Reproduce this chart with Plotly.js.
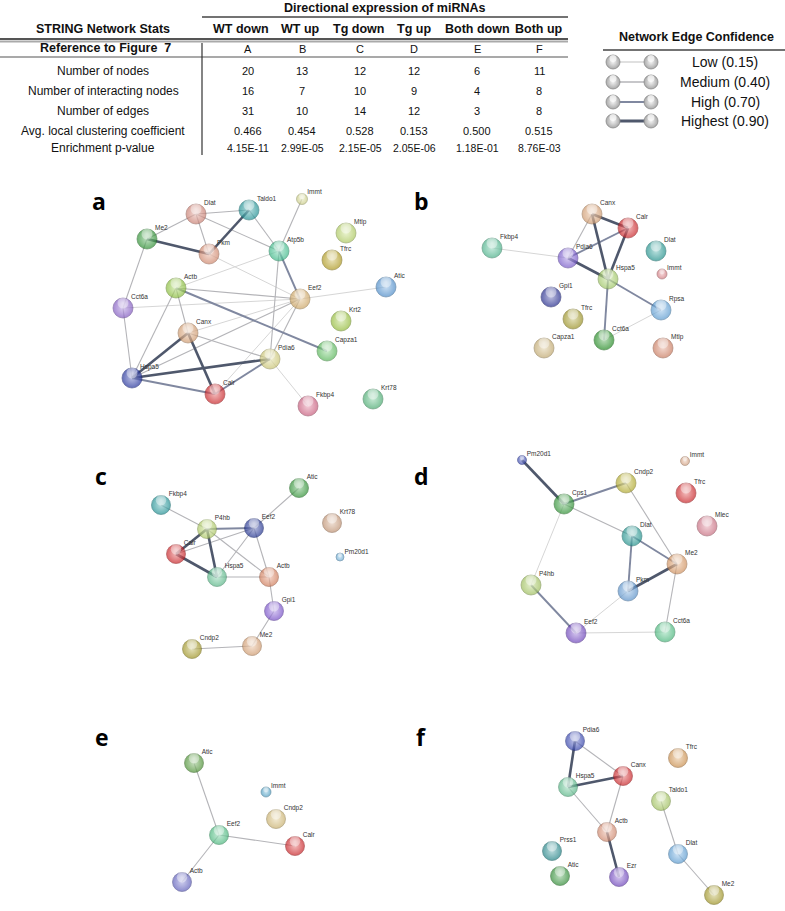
<!DOCTYPE html>
<html><head><meta charset="utf-8">
<script src="https://cdn.plot.ly/plotly-3.0.1.min.js"></script>
<style>html,body{margin:0;padding:0;background:#fff}#chart{width:785px;height:911px}</style>
</head><body><div id="chart"></div>
<script>
// ================= TABLE DATA =================
const groupTitle = 'Directional expression of miRNAs';
const statsTitle = 'STRING Network Stats';
const columns = ['WT down','WT up','Tg down','Tg up','Both down','Both up'];
const figRefLabel = 'Reference to Figure\u00a0 7';
const figRefs = ['A','B','C','D','E','F'];
const rowLabels = ['Number of nodes','Number of interacting nodes','Number of edges','Avg. local clustering coefficient','Enrichment p-value'];
const nodesCount  = ['20','13','12','12','6','11'];
const interacting = ['16','7','10','9','4','8'];
const edgesCount  = ['31','10','14','12','3','8'];
const clustering  = ['0.466','0.454','0.528','0.153','0.500','0.515'];
const pValues     = ['4.15E-11','2.99E-05','2.15E-05','2.05E-06','1.18E-01','8.76E-03'];

// ================= LEGEND DATA =================
const confTitle  = 'Network Edge Confidence';
const confLabels = ['Low (0.15)','Medium (0.40)','High (0.70)','Highest (0.90)'];
const confValues = [0.15, 0.40, 0.70, 0.90];

// ================= NETWORK DATA (layout coordinates per panel) =================
const panelLetters = ['a','b','c','d','e','f'];

const aNames = ['Dlat','Taldo1','Immt','Me2','Pkm','Atp5b','Mtlp','Tfrc','Atic','Actb','Eef2','Cct6a','Krt2','Canx','Capza1','Pdia6','Hspa5','Calr','Fkbp4','Krt78'];
const aX = [106,159,212,57,119,189,256,242,296,86,210,33,251,98,237,180,42,125,218,283];
const aY = [34,30,19,59,74,71,53,80,107,108,119,128,141,153,171,179,198,214,226,219];
const aEdges = [
  ['Dlat','Taldo1',0.40],['Dlat','Me2',0.40],['Dlat','Pkm',0.40],['Dlat','Atp5b',0.40],
  ['Taldo1','Pkm',0.90],['Taldo1','Atp5b',0.40],['Me2','Pkm',0.90],['Me2','Cct6a',0.40],
  ['Pkm','Eef2',0.15],['Immt','Atp5b',0.40],['Atp5b','Actb',0.15],['Atp5b','Eef2',0.70],
  ['Atp5b','Pdia6',0.40],['Eef2','Atic',0.15],['Eef2','Actb',0.40],['Eef2','Cct6a',0.15],
  ['Eef2','Hspa5',0.40],['Eef2','Pdia6',0.40],['Eef2','Calr',0.15],['Eef2','Canx',0.15],
  ['Actb','Capza1',0.70],['Actb','Canx',0.40],['Actb','Hspa5',0.40],['Cct6a','Hspa5',0.40],
  ['Canx','Hspa5',0.90],['Canx','Calr',0.90],['Canx','Pdia6',0.40],['Hspa5','Pdia6',0.90],
  ['Hspa5','Calr',0.70],['Pdia6','Calr',0.70],['Pdia6','Fkbp4',0.15]
];

const bNames = ['Canx','Calr','Fkbp4','Pdia6','Dlat','Immt','Hspa5','Gpi1','Rpsa','Tfrc','Cct6a','Capza1','Mtlp'];
const bX = [152,188,52,128,216,222,168,111,221,133,164,104,223];
const bY = [34,48,68,78,71,94,99,117,130,139,160,168,168];
const bEdges = [
  ['Canx','Calr',0.90],['Canx','Pdia6',0.40],['Canx','Hspa5',0.90],['Calr','Pdia6',0.70],
  ['Calr','Hspa5',0.90],['Pdia6','Hspa5',0.90],['Pdia6','Fkbp4',0.15],['Hspa5','Rpsa',0.70],
  ['Hspa5','Cct6a',0.70],['Cct6a','Rpsa',0.15]
];

const cNames = ['Atic','Fkbp4','Krt78','P4hb','Eef2','Calr','Pm20d1','Hspa5','Actb','Gpi1','Me2','Cndp2'];
const cX = [199,61,232,107,154,76,240,117,169,174,152,92];
const cY = [48,65,83,89,88,114,117,137,137,171,206,209];
const cEdges = [
  ['Atic','Eef2',0.40],['Fkbp4','P4hb',0.40],['P4hb','Eef2',0.70],['P4hb','Calr',0.90],
  ['P4hb','Hspa5',0.90],['P4hb','Actb',0.40],['Calr','Eef2',0.40],['Calr','Hspa5',0.90],
  ['Eef2','Hspa5',0.40],['Eef2','Actb',0.40],['Hspa5','Actb',0.40],['Actb','Gpi1',0.40],
  ['Gpi1','Me2',0.40],['Me2','Cndp2',0.40]
];

const dNames = ['Pm20d1','Immt','Cndp2','Tfrc','Cps1','Mlec','Dlat','Me2','P4hb','Pkm','Eef2','Cct6a'];
const dX = [82,245,186,246,124,267,192,237,91,188,136,225];
const dY = [20,21,43,53,64,86,96,124,145,151,193,192];
const dEdges = [
  ['Pm20d1','Cps1',0.90],['Cps1','Cndp2',0.70],['Cps1','Dlat',0.40],['Cps1','P4hb',0.15],
  ['Cndp2','Me2',0.40],['Dlat','Me2',0.70],['Dlat','Pkm',0.70],['Me2','Pkm',0.90],
  ['Me2','Cct6a',0.40],['P4hb','Eef2',0.70],['Pkm','Eef2',0.15],['Eef2','Cct6a',0.15]
];

const eNames = ['Atic','Immt','Cndp2','Eef2','Calr','Actb'];
const eX = [94,166,176,119,195,82];
const eY = [73,102,129,145,156,192];
const eEdges = [['Atic','Eef2',0.40],['Eef2','Calr',0.40],['Eef2','Actb',0.40]];

const fNames = ['Pdia6','Tfrc','Canx','Hspa5','Taldo1','Actb','Prss1','Dlat','Atic','Ezr','Me2'];
const fX = [135,238,183,128,221,167,112,238,120,179,274];
const fY = [51,68,86,97,111,142,161,164,186,187,205];
const fEdges = [
  ['Pdia6','Canx',0.40],['Pdia6','Hspa5',0.90],['Hspa5','Canx',0.90],['Hspa5','Actb',0.40],
  ['Canx','Actb',0.40],['Actb','Ezr',0.90],['Taldo1','Dlat',0.40],['Dlat','Me2',0.40]
];

// ================= STYLES =================
const W = 785, H = 911;
const px = v => v / W, py = v => 1 - v / H;

const nodeColors = {
  a: {Dlat:'#d9887a',Taldo1:'#1f9a9e',Immt:'#d9dc8e',Me2:'#2f9a34',Pkm:'#df8f72',Atp5b:'#3fc792',Mtlp:'#b9d763',Tfrc:'#b9a21c',Atic:'#4f95d8',Actb:'#93cb3d',Eef2:'#dcb068',Cct6a:'#8a5fd0',Krt2:'#9cc83a',Canx:'#dfa474',Capza1:'#5cc45e',Pdia6:'#d8d27a',Hspa5:'#2232a6',Calr:'#d82226',Fkbp4:'#d65f82',Krt78:'#4cb777'},
  b: {Canx:'#dfa474',Calr:'#d82226',Fkbp4:'#4cbd92',Pdia6:'#7d5cd8',Dlat:'#1f9a95',Immt:'#df7d84',Hspa5:'#a8d468',Gpi1:'#232a96',Rpsa:'#5ea4df',Tfrc:'#a49a22',Cct6a:'#229322',Capza1:'#cfb374',Mtlp:'#d88163'},
  c: {Atic:'#2f9a34',Fkbp4:'#1f9a9e',Krt78:'#cc9a78',P4hb:'#b9d76a',Eef2:'#22349a',Calr:'#d82226',Pm20d1:'#6db3e0',Hspa5:'#5cc490',Actb:'#e0835e',Gpi1:'#7d52d6',Me2:'#dfa474',Cndp2:'#a89d22'},
  d: {Pm20d1:'#3444b8',Immt:'#dfa784',Cndp2:'#bdb42c',Tfrc:'#d82226',Cps1:'#2f9a34',Mlec:'#d67287',Dlat:'#1f9a95',Me2:'#e09a62',P4hb:'#a8cc60',Pkm:'#5e9ad8',Eef2:'#7244c8',Cct6a:'#4cc483'},
  e: {Atic:'#4f9a34',Immt:'#4ea6cf',Cndp2:'#d8bd74',Eef2:'#4cc483',Calr:'#d82226',Actb:'#6262c8'},
  f: {Pdia6:'#3444b8',Tfrc:'#d8974e',Canx:'#d82226',Hspa5:'#5cc490',Taldo1:'#a8cc60',Actb:'#df8f72',Prss1:'#1f8a8e',Dlat:'#5ea4df',Atic:'#2f9434',Ezr:'#7244c8',Me2:'#a89d22'}
};
const smallNodes = {a:{Immt:11}, b:{Immt:10}, c:{Pm20d1:8}, d:{Pm20d1:9, Immt:9}, e:{Immt:10}, f:{}};
const nodeSize = {a:20, b:20, c:19, d:20, e:19, f:19};

const edgeStyle = c => c >= 0.9 ? {color:'#4f586c', width:2.6}
                    : c >= 0.7 ? {color:'#8088a0', width:1.9}
                    : c >= 0.4 ? {color:'#b4b4b8', width:1.1}
                    :            {color:'#d6d6d6', width:1.0};

const boxes = {
  a:{x0:90, y0:180, w:330, h:240},
  b:{x0:440,y0:180, w:290, h:240},
  c:{x0:100,y0:440, w:280, h:230},
  d:{x0:440,y0:440, w:290, h:230},
  e:{x0:100,y0:690, w:260, h:221},
  f:{x0:440,y0:690, w:300, h:221}
};
const letterPos = {a:[99,201], b:[421,201], c:[101,476], d:[421,476], e:[102,737], f:[421,737]};

function hexToRgb(h){h=h.replace('#','');return [parseInt(h.substr(0,2),16),parseInt(h.substr(2,2),16),parseInt(h.substr(4,2),16)];}
function mix(h, t){const c=hexToRgb(h);return 'rgb('+c.map(v=>Math.round(v+(255-v)*t)).join(',')+')';}
function shade(h, t){const c=hexToRgb(h);return 'rgb('+c.map(v=>Math.round(v*(1-t))).join(',')+')';}

const panels = {
  a:{names:aNames,x:aX,y:aY,edges:aEdges},
  b:{names:bNames,x:bX,y:bY,edges:bEdges},
  c:{names:cNames,x:cX,y:cY,edges:cEdges},
  d:{names:dNames,x:dX,y:dY,edges:dEdges},
  e:{names:eNames,x:eX,y:eY,edges:eEdges},
  f:{names:fNames,x:fX,y:fY,edges:fEdges}
};

const traces = [];
const layout = {
  width:W, height:H, margin:{l:0,r:0,t:0,b:0},
  paper_bgcolor:'#fff', plot_bgcolor:'rgba(0,0,0,0)',
  showlegend:false, annotations:[], shapes:[],
  font:{family:'Liberation Sans, Arial, sans-serif', color:'#000'}
};

function addAxes(idx, box){
  const xa = idx===1?'xaxis':'xaxis'+idx, ya = idx===1?'yaxis':'yaxis'+idx;
  const common = {showgrid:false, zeroline:false, showticklabels:false, ticks:'', showline:false, fixedrange:true};
  layout[xa] = Object.assign({domain:[px(box.x0), px(box.x0+box.w)], range:[0,box.w], anchor:'y'+(idx===1?'':idx)}, common);
  layout[ya] = Object.assign({domain:[py(box.y0+box.h), py(box.y0)], range:[box.h,0], anchor:'x'+(idx===1?'':idx)}, common);
  return {xr:'x'+(idx===1?'':idx), yr:'y'+(idx===1?'':idx)};
}

function addSpheres(xs, ys, sizes, cols, ax, hoverNames){
  traces.push({type:'scatter', mode:'markers', x:xs, y:ys, xaxis:ax.xr, yaxis:ax.yr,
    text:hoverNames, hoverinfo:'text',
    marker:{size:sizes, color:cols.map(c=>shade(c,0.08)),
      gradient:{type:'radial', color:cols.map(c=>mix(c,0.55))},
      line:{color:cols.map(c=>shade(c,0.35)), width:0.7}}});
  // glossy highlight
  traces.push({type:'scatter', mode:'markers', x:xs, y:ys.map((v,i)=>v - sizes[i]*0.25), xaxis:ax.xr, yaxis:ax.yr,
    hoverinfo:'skip',
    marker:{size:sizes.map(s=>s*0.55), color:'rgba(255,255,255,0.55)',
      gradient:{type:'radial', color:'rgba(255,255,255,0.85)'}, line:{width:0}}});
}

let idx = 1;
panelLetters.forEach(key=>{
  const p = panels[key], box = boxes[key];
  const ax = addAxes(idx, box);
  const pos = {};
  p.names.forEach((n,i)=>pos[n]=[p.x[i], p.y[i]]);
  // edges grouped by confidence (low first)
  confValues.forEach(cv=>{
    const ex=[], ey=[];
    p.edges.filter(e=>e[2]===cv).forEach(e=>{
      ex.push(pos[e[0]][0], pos[e[1]][0], null);
      ey.push(pos[e[0]][1], pos[e[1]][1], null);
    });
    if(ex.length){
      const st = edgeStyle(cv);
      traces.push({type:'scatter', mode:'lines', x:ex, y:ey, xaxis:ax.xr, yaxis:ax.yr,
        hoverinfo:'skip', line:{color:st.color, width:st.width}});
    }
  });
  const sizes = p.names.map(n=>smallNodes[key][n] || nodeSize[key]);
  const cols = p.names.map(n=>nodeColors[key][n]);
  addSpheres(p.x, p.y, sizes, cols, ax, p.names);
  // labels
  traces.push({type:'scatter', mode:'text', xaxis:ax.xr, yaxis:ax.yr,
    x:p.x.map((v,i)=>v + sizes[i]*0.3 + 2), y:p.y.map((v,i)=>v - sizes[i]*0.5 - 1),
    text:p.names, textposition:'middle right', hoverinfo:'skip',
    textfont:{size:6.5, color:'#333', family:'Liberation Sans, Arial, sans-serif'}});
  // panel letter
  layout.annotations.push({xref:'paper', yref:'paper', x:px(letterPos[key][0]), y:py(letterPos[key][1]),
    xanchor:'center', yanchor:'middle', showarrow:false, text:'<b>'+key+'</b>',
    font:{size:23, family:'Open Sans, Liberation Sans, sans-serif', color:'#000'}});
  idx++;
});

// ---- legend (edge confidence) ----
const legBox = {x0:580, y0:20, w:205, h:140};
const lax = addAxes(idx, legBox);
const legRowsY = [42, 62, 82, 101];
confValues.forEach((cv,i)=>{
  const st = edgeStyle(cv);
  traces.push({type:'scatter', mode:'lines', x:[33,71], y:[legRowsY[i],legRowsY[i]], xaxis:lax.xr, yaxis:lax.yr,
    hoverinfo:'skip', line:{color:st.color, width:st.width+0.3}});
});
const lgx=[], lgy=[];
legRowsY.forEach(y=>{lgx.push(33,71); lgy.push(y,y);});
traces.push({type:'scatter', mode:'markers', x:lgx, y:lgy, xaxis:lax.xr, yaxis:lax.yr, hoverinfo:'skip',
  marker:{size:14, symbol:'circle', color:'#a9a9a9', gradient:{type:'radial', color:'#f4f4f4'}, line:{color:'#8a8a8a', width:0.8}}});
traces.push({type:'scatter', mode:'markers', x:lgx, y:lgy.map(v=>v-3.5), xaxis:lax.xr, yaxis:lax.yr, hoverinfo:'skip',
  marker:{size:7, color:'rgba(255,255,255,0.7)', line:{width:0}}});
confLabels.forEach((t,i)=>{
  layout.annotations.push({xref:lax.xr, yref:lax.yr, x:145, y:legRowsY[i], xanchor:'center', yanchor:'middle',
    showarrow:false, text:t, font:{size:14, color:'#111'}});
});
layout.annotations.push({xref:'paper', yref:'paper', x:px(696), y:py(37), xanchor:'center', yanchor:'middle',
  showarrow:false, text:'<b>'+confTitle+'</b>', font:{size:12.5, color:'#111'}});
layout.shapes.push({type:'line', xref:'paper', yref:'paper', x0:px(603), x1:px(785), y0:py(50), y1:py(50), line:{color:'#444', width:1.5}});

// ---- table ----
const colXHead = [241,300,358,414,477,539];
const colXVal  = [248,302,360,414,477,539];
const rowY = [71, 91, 111, 131, 148];
const labelX = 103;
function txt(x,y,t,size,bold,anchor){
  layout.annotations.push({xref:'paper', yref:'paper', x:px(x), y:py(y), xanchor:anchor||'center', yanchor:'middle',
    showarrow:false, text: bold?'<b>'+t+'</b>':t, font:{size:size, color:'#111'}});
}
txt(384, 8, groupTitle, 12.5, true);
txt(labelX, 29, statsTitle, 12.5, true);
columns.forEach((c,i)=>txt(colXHead[i], 29, c, 12.5, true));
txt(labelX+2, 48, figRefLabel, 12.5, true);
figRefs.forEach((c,i)=>txt(colXVal[i], 49, c, 11, false));
rowLabels.forEach((r,i)=>txt(labelX, rowY[i], r, 12, false));
const rowsVals = [nodesCount, interacting, edgesCount, clustering, pValues];
rowsVals.forEach((vals,ri)=>vals.forEach((v,ci)=>txt(colXVal[ci], rowY[ri], v, ri===4?10.5:11, false)));

function hline(x0,x1,y,color,width){
  layout.shapes.push({type:'line', xref:'paper', yref:'paper', x0:px(x0), x1:px(x1), y0:py(y), y1:py(y), line:{color:color, width:width}});
}
hline(202, 568, 17, '#444', 1.5);
hline(0, 568, 39, '#555', 2);
hline(0, 568, 41.5, '#aaa', 2);
hline(0, 568, 57, '#555', 1.2);
layout.shapes.push({type:'line', xref:'paper', yref:'paper', x0:px(202), x1:px(202), y0:py(43), y1:py(155), line:{color:'#333', width:1.2}});

Plotly.newPlot('chart', traces, layout, {staticPlot:true, displayModeBar:false});
</script>
</body></html>
